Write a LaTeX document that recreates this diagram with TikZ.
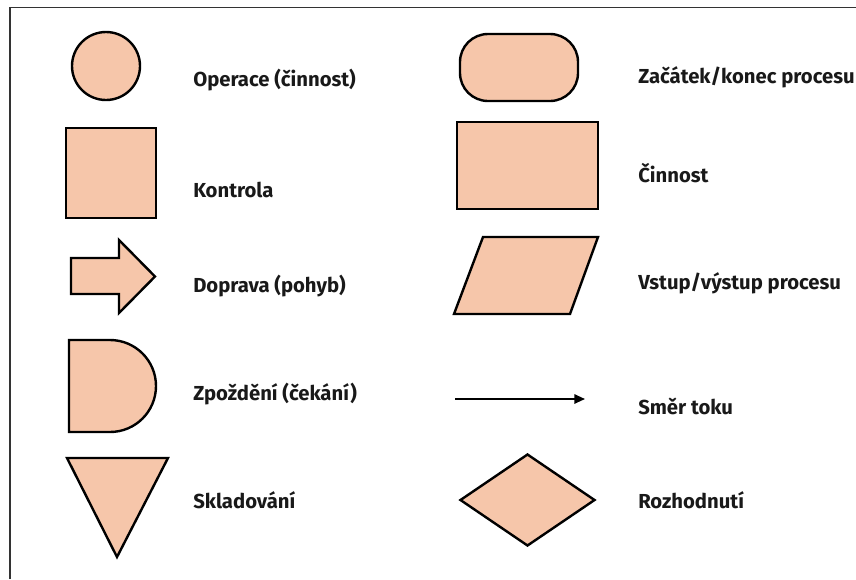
\documentclass[tikz,border=0pt]{standalone}
\usepackage{fontspec}
\setmainfont{Fira Sans}
\usetikzlibrary{shapes.geometric,arrows.meta}
\definecolor{peach}{RGB}{246,198,170}
\tikzset{
  symb/.style={draw=black,fill=peach,line width=1.8pt,inner sep=0pt},
  symcircle/.style={symb,circle,minimum size=51pt},
  symbox/.style={symb,rectangle},
  symstadium/.style={symb,rectangle,rounded corners=21pt},
  symdiamond/.style={symb,diamond},
  lbl/.style={anchor=base west,inner sep=0pt,text=black!90,font=\bfseries\fontsize{15.2}{18}\selectfont},
  flow/.style={-{Triangle[length=8pt,width=7pt]},line width=1.4pt},
  frameline/.style={draw=black!80,line width=0.8pt}
}

\begin{document}
\begin{tikzpicture}[x=0.75pt,y=-0.75pt]
\useasboundingbox (0,0) rectangle (856,579);
\draw[frameline] (10,579) -- (10,7.5) -- (856,7.5);

% left column
\node[symcircle] (op) at (106,66) {};
\node[symbox,minimum size=67.5pt] (ctrl) at (111,173) {};
\draw[symb] (71,258) -- (119,258) -- (119,240) -- (155,276.5) -- (119,313) -- (119,294) -- (71,294) -- cycle;
\draw[symb] (69,340) -- (110,340) arc[start angle=90,end angle=-90,radius=34.5pt] -- (69,432) -- cycle;
\draw[symb] (67,458) -- (168,458) -- (117,557) -- cycle;

\node[lbl] (opL) at (193,86) {Operace (činnost)};
\node[lbl] (ctrlL) at (193,197) {Kontrola};
\node[lbl] (transL) at (193,292) {Doprava (pohyb)};
\node[lbl] (delayL) at (193,400) {Zpoždění (čekání)};
\node[lbl] (storeL) at (193,508) {Skladování};

% right column
\node[symstadium,minimum width=88.5pt,minimum height=50.25pt] (term) at (519,67.5) {};
\node[symbox,minimum width=105.75pt,minimum height=65.25pt] (act) at (527.5,165.5) {};
\draw[symb] (483,237) -- (598,237) -- (570,314) -- (454,314) -- cycle;
\coordinate (fs) at (455,399);
\coordinate (fe) at (585,399);
\draw[flow] (fs) -- (fe);
\node[symdiamond,minimum width=101.25pt,minimum height=69pt] (dec) at (527.5,500) {};

\node[lbl] (termL) at (638,83) {Začátek/konec procesu};
\node[lbl] (actL) at (638,182) {Činnost};
\node[lbl] (ioL) at (638,289.5) {Vstup/výstup procesu};
\node[lbl] (flowL) at (638,414) {Směr toku};
\node[lbl] (decL) at (638,508) {Rozhodnutí};
\end{tikzpicture}
\end{document}
